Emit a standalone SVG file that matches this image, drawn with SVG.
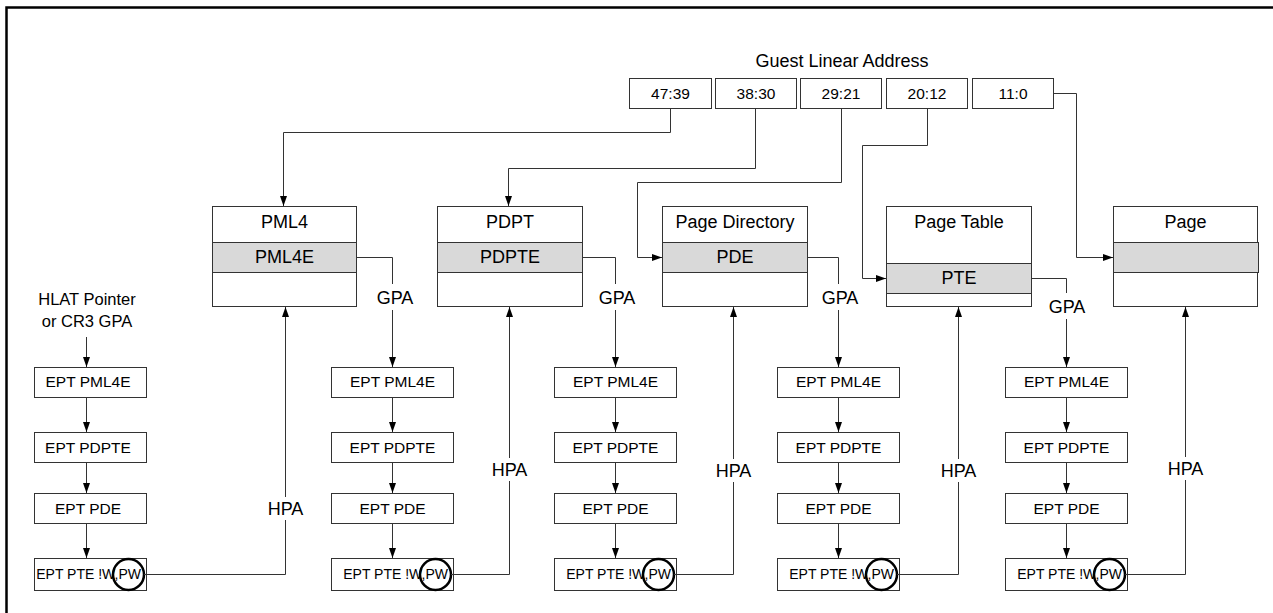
<svg xmlns="http://www.w3.org/2000/svg" width="1273" height="613" viewBox="0 0 1273 613">
<defs>
<style>
text{font-family:"Liberation Sans",Arial,sans-serif;fill:#000;text-anchor:middle}
.box{fill:#fff;stroke:#333;stroke-width:1}
.gray{fill:#d9d9d9;stroke:#333;stroke-width:1}
.t18{font-size:18px}
.t16{font-size:16.5px}
.addr{font-size:15.5px}
.ept{font-size:15.5px}
.pte{font-size:14px;text-anchor:end}
.ring{fill:none;stroke:#000;stroke-width:2.5}
.ln{fill:none;stroke:#333;stroke-width:1}
.arr{marker-end:url(#ah)}
</style>
<marker id="ah" viewBox="0 0 10 7" refX="10" refY="3.5" markerWidth="10" markerHeight="7" markerUnits="userSpaceOnUse" orient="auto" preserveAspectRatio="none">
<path d="M0,0 L10,3.5 L0,7 z" fill="#000"/>
</marker>
</defs>
<rect width="1273" height="613" fill="#fff"/>
<path d="M6.5,613 V7.5 H1273" fill="none" stroke="#000" stroke-width="2.5"/>

<g id="address">
<text class="t18" x="842" y="67">Guest Linear Address</text>
<g id="a4739"><rect class="box" x="629.5" y="78.5" width="82" height="30"/><text class="addr" x="670.5" y="99">47:39</text></g>
<g id="a3830"><rect class="box" x="715.5" y="78.5" width="81" height="30"/><text class="addr" x="756" y="99">38:30</text></g>
<g id="a2921"><rect class="box" x="800.5" y="78.5" width="81" height="30"/><text class="addr" x="841" y="99">29:21</text></g>
<g id="a2012"><rect class="box" x="886.5" y="78.5" width="81" height="30"/><text class="addr" x="927" y="99">20:12</text></g>
<g id="a110"><rect class="box" x="972.5" y="78.5" width="81" height="30"/><text class="addr" x="1013" y="99">11:0</text></g>
</g>

<g id="pml4"><rect class="box" x="212.5" y="206.5" width="144" height="100"/><rect class="gray" x="212.5" y="242.5" width="144" height="30"/><text class="t18" x="284.5" y="228">PML4</text><text class="t18" x="284.5" y="263">PML4E</text></g>
<g id="pdpt"><rect class="box" x="437.5" y="206.5" width="145" height="100"/><rect class="gray" x="437.5" y="242.5" width="145" height="30"/><text class="t18" x="510" y="228">PDPT</text><text class="t18" x="510" y="263">PDPTE</text></g>
<g id="pd"><rect class="box" x="662.5" y="206.5" width="145" height="100"/><rect class="gray" x="662.5" y="242.5" width="145" height="30"/><text class="t18" x="735" y="228">Page Directory</text><text class="t18" x="735" y="263">PDE</text></g>
<g id="pt"><rect class="box" x="886.5" y="206.5" width="145" height="100"/><rect class="gray" x="886.5" y="263.5" width="145" height="30"/><text class="t18" x="959" y="228">Page Table</text><text class="t18" x="959" y="284">PTE</text></g>
<g id="page"><rect class="box" x="1113.5" y="206.5" width="144" height="100"/><rect class="gray" x="1113.5" y="242.5" width="145" height="30"/><text class="t18" x="1185.5" y="228">Page</text></g>

<g id="hlat"><text class="t16" x="87" y="305">HLAT Pointer</text><text class="t16" x="87" y="327">or CR3 GPA</text></g>

<g id="ept1">
<g id="ept1-pml4e"><rect class="box" x="34.5" y="367.5" width="112" height="30"/><text class="ept" x="88" y="387">EPT PML4E</text></g>
<g id="ept1-pdpte"><rect class="box" x="34.5" y="432.5" width="112" height="30"/><text class="ept" x="88" y="453">EPT PDPTE</text></g>
<g id="ept1-pde"><rect class="box" x="34.5" y="493.5" width="112" height="30"/><text class="ept" x="88" y="514">EPT PDE</text></g>
<g id="ept1-pte"><rect class="box" x="34.5" y="558.5" width="112" height="32"/><text class="pte" x="141" y="579">EPT PTE !W,PW</text><circle class="ring" cx="128.5" cy="574.5" r="15.5"/></g>
</g>
<g id="ept2">
<g id="ept2-pml4e"><rect class="box" x="331.5" y="367.5" width="122" height="30"/><text class="ept" x="392.5" y="387">EPT PML4E</text></g>
<g id="ept2-pdpte"><rect class="box" x="331.5" y="432.5" width="122" height="30"/><text class="ept" x="392.5" y="453">EPT PDPTE</text></g>
<g id="ept2-pde"><rect class="box" x="331.5" y="493.5" width="122" height="30"/><text class="ept" x="392.5" y="514">EPT PDE</text></g>
<g id="ept2-pte"><rect class="box" x="331.5" y="558.5" width="122" height="32"/><text class="pte" x="448" y="579">EPT PTE !W,PW</text><circle class="ring" cx="435.5" cy="574.5" r="15.5"/></g>
</g>
<g id="ept3">
<g id="ept3-pml4e"><rect class="box" x="554.5" y="367.5" width="122" height="30"/><text class="ept" x="615.5" y="387">EPT PML4E</text></g>
<g id="ept3-pdpte"><rect class="box" x="554.5" y="432.5" width="122" height="30"/><text class="ept" x="615.5" y="453">EPT PDPTE</text></g>
<g id="ept3-pde"><rect class="box" x="554.5" y="493.5" width="122" height="30"/><text class="ept" x="615.5" y="514">EPT PDE</text></g>
<g id="ept3-pte"><rect class="box" x="554.5" y="558.5" width="122" height="32"/><text class="pte" x="671" y="579">EPT PTE !W,PW</text><circle class="ring" cx="658.5" cy="574.5" r="15.5"/></g>
</g>
<g id="ept4">
<g id="ept4-pml4e"><rect class="box" x="777.5" y="367.5" width="122" height="30"/><text class="ept" x="838.5" y="387">EPT PML4E</text></g>
<g id="ept4-pdpte"><rect class="box" x="777.5" y="432.5" width="122" height="30"/><text class="ept" x="838.5" y="453">EPT PDPTE</text></g>
<g id="ept4-pde"><rect class="box" x="777.5" y="493.5" width="122" height="30"/><text class="ept" x="838.5" y="514">EPT PDE</text></g>
<g id="ept4-pte"><rect class="box" x="777.5" y="558.5" width="122" height="32"/><text class="pte" x="894" y="579">EPT PTE !W,PW</text><circle class="ring" cx="881.5" cy="574.5" r="15.5"/></g>
</g>
<g id="ept5">
<g id="ept5-pml4e"><rect class="box" x="1005.5" y="367.5" width="122" height="30"/><text class="ept" x="1066.5" y="387">EPT PML4E</text></g>
<g id="ept5-pdpte"><rect class="box" x="1005.5" y="432.5" width="122" height="30"/><text class="ept" x="1066.5" y="453">EPT PDPTE</text></g>
<g id="ept5-pde"><rect class="box" x="1005.5" y="493.5" width="122" height="30"/><text class="ept" x="1066.5" y="514">EPT PDE</text></g>
<g id="ept5-pte"><rect class="box" x="1005.5" y="558.5" width="122" height="32"/><text class="pte" x="1122" y="579">EPT PTE !W,PW</text><circle class="ring" cx="1109.5" cy="574.5" r="15.5"/></g>
</g>

<g id="connectors">
<path class="ln arr" d="M670.5,108.5 V132.5 H283.5 V206"/>
<path class="ln arr" d="M755.5,108.5 V168.5 H508.5 V206"/>
<path class="ln arr" d="M841.5,108.5 V182.5 H637.5 V257.5 H662"/>
<path class="ln arr" d="M927.5,108.5 V145.5 H862.5 V278.5 H886"/>
<path class="ln arr" d="M1053.5,93.5 H1076.5 V257.5 H1113"/>

<path class="ln" d="M356.5,257.5 H392.5 V284"/>
<path class="ln arr" d="M392.5,310 V367"/>
<path class="ln" d="M582.5,257.5 H615.5 V284"/>
<path class="ln arr" d="M615.5,310 V367"/>
<path class="ln" d="M807.5,257.5 H838.5 V284"/>
<path class="ln arr" d="M838.5,310 V367"/>
<path class="ln" d="M1031.5,278.5 H1066.5 V293"/>
<path class="ln arr" d="M1066.5,319 V367"/>

<path class="ln arr" d="M86.5,337 V367"/>
<path class="ln arr" d="M86.5,398 V432"/>
<path class="ln arr" d="M86.5,463 V493"/>
<path class="ln arr" d="M86.5,524 V558"/>

<path class="ln arr" d="M392.5,398 V432"/>
<path class="ln arr" d="M392.5,463 V493"/>
<path class="ln arr" d="M392.5,524 V558"/>
<path class="ln arr" d="M615.5,398 V432"/>
<path class="ln arr" d="M615.5,463 V493"/>
<path class="ln arr" d="M615.5,524 V558"/>
<path class="ln arr" d="M838.5,398 V432"/>
<path class="ln arr" d="M838.5,463 V493"/>
<path class="ln arr" d="M838.5,524 V558"/>
<path class="ln arr" d="M1066.5,398 V432"/>
<path class="ln arr" d="M1066.5,463 V493"/>
<path class="ln arr" d="M1066.5,524 V558"/>

<path class="ln" d="M144,574.5 H285.5 V520"/>
<path class="ln arr" d="M285.5,497 V307"/>
<path class="ln" d="M451,574.5 H509.5 V481"/>
<path class="ln arr" d="M509.5,458 V307"/>
<path class="ln" d="M674,574.5 H733.5 V482"/>
<path class="ln arr" d="M733.5,459 V307"/>
<path class="ln" d="M897,574.5 H958.5 V482"/>
<path class="ln arr" d="M958.5,459 V307"/>
<path class="ln" d="M1125,574.5 H1185.5 V480"/>
<path class="ln arr" d="M1185.5,457 V307"/>
</g>

<g id="labels">
<text class="t18" x="395" y="304">GPA</text>
<text class="t18" x="617" y="304">GPA</text>
<text class="t18" x="840" y="304">GPA</text>
<text class="t18" x="1067" y="313">GPA</text>
<text class="t18" x="285.5" y="515">HPA</text>
<text class="t18" x="509.5" y="476">HPA</text>
<text class="t18" x="733.5" y="477">HPA</text>
<text class="t18" x="958.5" y="477">HPA</text>
<text class="t18" x="1185.5" y="475">HPA</text>
</g>
</svg>
